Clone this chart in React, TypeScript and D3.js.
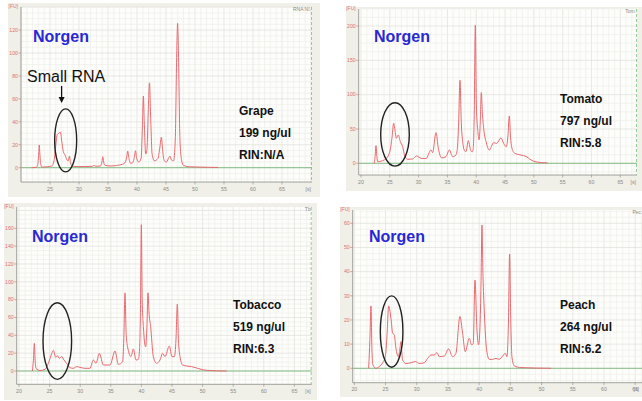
import { useEffect, useRef } from "react";
import * as d3 from "d3";

// Electropherogram traces: migration time [s] and fluorescence [FU]
const grapeTime = [21.8, 22.6, 22.9, 23.05, 23.15, 23.25, 23.4, 23.6, 24.5, 25.3, 25.7, 26.0, 26.25, 26.5, 26.8, 27.0, 27.3, 27.6, 27.9, 28.15, 28.35, 28.55, 28.8, 29.5, 31.0, 32.3, 32.6, 32.9, 33.7, 33.95, 34.1, 34.25, 34.5, 35.5, 36.5, 37.5, 38.0, 38.25, 38.4, 38.55, 38.85, 39.2, 39.5, 39.75, 39.95, 40.3, 40.7, 40.95, 41.1, 41.25, 41.5, 41.7, 41.95, 42.15, 42.35, 42.6, 43.0, 43.6, 43.95, 44.2, 44.4, 44.7, 45.1, 45.5, 45.7, 45.9, 46.3, 46.6, 46.85, 47.0, 47.15, 47.4, 47.7, 48.0, 49.0, 51.0, 54.0];
const grapeFU = [0, 0.3, 3, 12, 19.8, 12, 3, 0.5, 0.8, 1.5, 6, 20, 29, 30, 31, 24, 14, 11, 7, 6, 10, 4, 1.5, 1, 1, 1.2, 2, 1.2, 1.5, 5, 9.6, 5, 2, 1.5, 2, 3, 5, 10, 14.5, 10, 4, 4, 8, 14.8, 8, 5, 8, 40, 62.5, 40, 12, 15, 50, 74, 45, 12, 6, 8, 18, 26.7, 16, 6, 5, 9, 10, 7, 6, 25, 100, 126, 100, 25, 6, 2, 0.8, 0.5, 0.2];

const tomatoTime = [22.31, 22.45, 22.6, 22.75, 22.89, 24.05, 24.92, 25.35, 25.67, 25.95, 26.13, 26.48, 26.82, 27.23, 27.63, 28.1, 28.96, 29.66, 30.41, 31.28, 32.15, 32.43, 33.01, 33.42, 34.0, 34.75, 35.33, 35.9, 36.48, 36.7, 36.95, 37.18, 37.4, 37.64, 38.0, 38.22, 38.62, 39.0, 39.3, 39.45, 39.65, 39.84, 40.02, 40.3, 40.5, 40.7, 40.88, 41.05, 41.3, 41.75, 42.27, 43.02, 43.54, 44.29, 44.75, 45.22, 45.5, 45.74, 45.95, 46.14, 46.61, 47.18, 47.76, 48.63, 49.5, 50.36, 52.39];
const tomatoFU = [0, 10, 25.7, 10, 2.4, 4.9, 14.6, 35, 58.3, 45, 36.4, 41.3, 31.6, 24.3, 9.7, 5.8, 6.3, 10.7, 7.3, 6.8, 19.4, 15.5, 44.7, 21.8, 7.8, 9.7, 19.4, 9.7, 12.1, 20, 60, 121, 60, 32, 18, 17, 33, 20, 16.5, 20, 70, 201, 85, 45, 34, 60, 103, 75, 50, 30, 19.4, 30, 29, 37, 29, 24, 40, 69, 38, 24, 15, 13, 12, 10, 5, 2, 0.5];

const tobaccoTime = [22.18, 22.35, 22.51, 22.65, 22.78, 23.43, 24.25, 24.79, 25.34, 25.61, 25.99, 26.26, 26.59, 26.97, 27.35, 27.79, 28.33, 28.88, 29.42, 29.97, 30.78, 31.6, 32.15, 32.58, 33.13, 33.78, 34.87, 35.69, 36.23, 36.94, 37.12, 37.32, 37.52, 37.86, 38.3, 38.68, 39.12, 39.5, 39.7, 39.85, 39.99, 40.13, 40.32, 40.7, 40.9, 41.08, 41.25, 41.51, 41.95, 42.49, 43.04, 43.47, 43.86, 44.56, 45.0, 45.38, 45.65, 45.87, 46.05, 46.31, 46.74, 47.4, 48.21, 49.58, 50.66, 53.93];
const tobaccoFU = [0, 12, 31, 10, 3, 0.5, 1.9, 8.6, 19.4, 23.2, 15.3, 17.2, 14.2, 16.1, 12.3, 8.6, 3.7, 3, 4.9, 4.1, 3, 3, 12.3, 8.6, 19.8, 6.7, 6.7, 22.4, 7.5, 10.5, 35, 87.6, 40, 23.2, 16.1, 24.7, 12.3, 13.1, 25, 70, 164, 80, 49.9, 27, 50, 87.6, 65, 49.9, 16.1, 8.6, 12.3, 19.8, 16.1, 28, 16.1, 16.1, 35, 75, 35, 16.1, 6.7, 5.6, 4.9, 2.2, 0.7, 0];

const peachTime = [22.3, 22.5, 22.67, 22.82, 22.99, 23.47, 24.0, 24.54, 24.97, 25.25, 25.5, 25.87, 26.14, 26.41, 26.67, 27.05, 27.3, 27.47, 27.6, 27.74, 28.28, 29.08, 29.77, 30.41, 31.21, 31.75, 32.28, 32.81, 33.24, 33.61, 34.42, 35.11, 35.75, 36.28, 36.92, 37.35, 37.78, 38.42, 38.79, 39.06, 39.33, 39.65, 39.91, 40.13, 40.3, 40.45, 40.62, 40.82, 41.2, 41.62, 42.16, 42.69, 43.22, 43.76, 44.19, 44.45, 44.7, 44.88, 45.05, 45.25, 45.63, 46.7, 51.5];
const peachFU = [0, 12, 25.8, 8, 1.4, 0, 0.7, 2.3, 4.8, 14, 25.8, 20.7, 14.5, 13.8, 8.3, 4.8, 8, 11, 7, 3.4, 2, 2.3, 2.8, 2, 2.3, 4.1, 5.5, 5.5, 6.5, 4.8, 5.1, 8, 4.8, 6.2, 21.4, 14.5, 6.9, 12.4, 9.7, 10.3, 36.5, 15.9, 9.7, 17, 35, 59.3, 38, 24, 7.6, 3.7, 3.7, 4.1, 3.7, 5.1, 6.2, 4.8, 20, 47.3, 22, 4.8, 1, 0.3, 0];

const xTicks = [20, 25, 30, 35, 40, 45, 50, 55, 60, 65];
const grapeYTicks = [0, 20, 40, 60, 80, 100, 120];
const tomatoYTicks = [0, 50, 100, 150, 200];
const tobaccoYTicks = [0, 20, 40, 60, 80, 100, 120, 140, 160];
const peachYTicks = [0, 10, 20, 30, 40, 50, 60];

const sampleNames = ["Grape", "Tomato", "Tobacco", "Peach"];
const concentrations = ["199 ng/ul", "797 ng/ul", "519 ng/ul", "264 ng/ul"];
const rinValues = ["RIN:N/A", "RIN:5.8", "RIN:6.3", "RIN:6.2"];
const fileTags = ["RNA NI.", "Tom.", "Tb", "Pec"];

// small RNA region circled on each trace (centre in data units)
const circleTime = [27.7, 25.9, 26.26, 25.98];
const circleFU = [23.8, 42, 33.6, 15.2];

const panels = [
  { time: grapeTime, fu: grapeFU, yTicks: grapeYTicks, bg: [8, 3, 312, 194], plot: [21, 312, 7, 182], xr: [21, 282], yr: [167.7, 30.1], circle: [11, 31.5], labelX: 239, labelY: 115, norgen: [33, 42], show20: false },
  { time: tomatoTime, fu: tomatoFU, yTicks: tomatoYTicks, bg: [346, 7, 296, 184], plot: [358.7, 637, 9, 175], xr: [361, 620.3], yr: [163.3, 26], circle: [14.3, 31.7], labelX: 560, labelY: 103, norgen: [374, 42], show20: true },
  { time: tobaccoTime, fu: tobaccoFU, yTicks: tobaccoYTicks, bg: [4, 203, 313, 197], plot: [16.7, 311.7, 207, 384.3], xr: [19, 294.4], yr: [371, 228.3], circle: [14.3, 38.3], labelX: 233, labelY: 309, norgen: [32, 242], show20: true },
  { time: peachTime, fu: peachFU, yTicks: peachYTicks, bg: [340, 207, 302, 190], plot: [352.7, 646, 210, 382.7], xr: [354.3, 635.2], yr: [368.3, 223.3], circle: [11.3, 35.7], labelX: 560, labelY: 309, norgen: [369, 242], show20: true },
];

const FONT = "'Liberation Sans', Arial, sans-serif";

export default function App() {
  const svgRef = useRef<SVGSVGElement>(null);

  useEffect(() => {
    if (!svgRef.current) return;
    const svg = d3.select(svgRef.current);
    svg.selectAll("*").remove();

    panels.forEach((p, i) => {
      const g = svg.append("g");
      const [left, right, top, bottom] = p.plot;
      const yMax = p.yTicks[p.yTicks.length - 1];
      const x = d3.scaleLinear().domain([20, 65]).range(p.xr);
      const y = d3.scaleLinear().domain([0, yMax]).range(p.yr);
      const tEnd = x.invert(right);

      // panel background + plot area
      g.append("rect")
        .attr("x", p.bg[0]).attr("y", p.bg[1])
        .attr("width", p.bg[2]).attr("height", p.bg[3])
        .attr("fill", "#f0efe8");
      g.append("rect")
        .attr("x", left).attr("y", top)
        .attr("width", right - left).attr("height", bottom - top)
        .attr("fill", "#fdfdfb");

      // minor / major vertical grid
      const vLines = d3.range(Math.ceil(x.invert(left)), tEnd, 1);
      g.selectAll("line.vg").data(vLines).join("line")
        .attr("x1", (d) => x(d)).attr("x2", (d) => x(d))
        .attr("y1", top).attr("y2", bottom)
        .attr("stroke", (d) => (d % 5 === 0 ? "#dededa" : "#eeeeea"))
        .attr("stroke-width", 0.7);

      // horizontal grid
      const step = p.yTicks[1] - p.yTicks[0];
      const hLines = d3.range(y.invert(bottom), y.invert(top), step / 4)
        .map((d) => Math.ceil(d / (step / 4)) * (step / 4));
      g.selectAll("line.hg").data(hLines).join("line")
        .attr("x1", left).attr("x2", right)
        .attr("y1", (d) => y(d)).attr("y2", (d) => y(d))
        .attr("stroke", (d) => (d % step === 0 ? "#dededa" : "#eeeeea"))
        .attr("stroke-width", 0.7);

      // axes
      g.append("line")
        .attr("x1", left).attr("x2", left).attr("y1", top).attr("y2", bottom)
        .attr("stroke", "#8a8a86").attr("stroke-width", 0.8);
      g.append("line")
        .attr("x1", left).attr("x2", right).attr("y1", bottom).attr("y2", bottom)
        .attr("stroke", "#8a8a86").attr("stroke-width", 0.8);

      // y ticks
      g.selectAll("line.yt").data(p.yTicks).join("line")
        .attr("x1", left - 2.5).attr("x2", left)
        .attr("y1", (d) => y(d)).attr("y2", (d) => y(d))
        .attr("stroke", "#d07070").attr("stroke-width", 0.6);
      g.selectAll("text.yl").data(p.yTicks).join("text")
        .attr("x", left - 3).attr("y", (d) => y(d) + 1.8)
        .attr("text-anchor", "end")
        .attr("font-family", FONT).attr("font-size", 5.2)
        .attr("fill", "#e07070")
        .text((d) => d);
      g.append("text")
        .attr("x", left - 3).attr("y", top + 0.5)
        .attr("text-anchor", "end")
        .attr("font-family", FONT).attr("font-size", 5)
        .attr("fill", "#e07070")
        .text("[FU]");

      // x ticks
      const shownX = p.show20 ? xTicks : xTicks.slice(1);
      g.selectAll("line.xt").data(shownX).join("line")
        .attr("x1", (d) => x(d)).attr("x2", (d) => x(d))
        .attr("y1", bottom).attr("y2", bottom + 2.5)
        .attr("stroke", "#8a8a86").attr("stroke-width", 0.6);
      g.selectAll("text.xl").data(shownX).join("text")
        .attr("x", (d) => x(d)).attr("y", bottom + 8.5)
        .attr("text-anchor", "middle")
        .attr("font-family", FONT).attr("font-size", 5.2)
        .attr("fill", "#8a8a86")
        .text((d) => d);
      g.append("text")
        .attr("x", Math.min(right, 640) - 1).attr("y", bottom + 8.5)
        .attr("text-anchor", "end")
        .attr("font-family", FONT).attr("font-size", 5.2)
        .attr("fill", "#8a8a86")
        .text("[s]");

      // file tag top right
      g.append("text")
        .attr("x", Math.min(right, 642) - 1).attr("y", top + 4)
        .attr("text-anchor", "end")
        .attr("font-family", FONT).attr("font-size", 5)
        .attr("fill", "#8a8a86")
        .text(fileTags[i]);

      // green baseline and dashed end marker
      g.append("line")
        .attr("x1", left).attr("x2", right)
        .attr("y1", y(0)).attr("y2", y(0))
        .attr("stroke", "#78b878").attr("stroke-width", 0.9);
      g.append("line")
        .attr("x1", right - 0.5).attr("x2", right - 0.5)
        .attr("y1", top).attr("y2", bottom)
        .attr("stroke", "#7cbf7c").attr("stroke-width", 0.8)
        .attr("stroke-dasharray", "3,2");

      // trace
      const pts = p.time.map((t, k) => [t, p.fu[k]] as [number, number]);
      const line = d3.line<[number, number]>()
        .x((d) => x(d[0]))
        .y((d) => y(d[1]))
        .curve(d3.curveMonotoneX);
      g.append("path")
        .attr("d", line(pts))
        .attr("fill", "none")
        .attr("stroke", "#e8696e")
        .attr("stroke-width", 1);

      // circle around small RNA region
      g.append("ellipse")
        .attr("cx", x(circleTime[i])).attr("cy", y(circleFU[i]))
        .attr("rx", p.circle[0]).attr("ry", p.circle[1])
        .attr("fill", "none")
        .attr("stroke", "#222").attr("stroke-width", 1.4);

      // Norgen label
      g.append("text")
        .attr("x", p.norgen[0]).attr("y", p.norgen[1])
        .attr("font-family", FONT).attr("font-weight", "bold")
        .attr("font-size", 16).attr("fill", "#2929d4")
        .text("Norgen");

      // sample info
      [sampleNames[i], concentrations[i], rinValues[i]].forEach((s, k) => {
        g.append("text")
          .attr("x", p.labelX).attr("y", p.labelY + k * 22)
          .attr("font-family", FONT).attr("font-weight", "bold")
          .attr("font-size", 12).attr("fill", "#111")
          .text(s);
      });

      if (i === 0) {
        g.append("text")
          .attr("x", 27).attr("y", 81.5)
          .attr("font-family", FONT).attr("font-size", 16)
          .attr("fill", "#111")
          .text("Small RNA");
        const ax = x(27.0);
        g.append("line")
          .attr("x1", ax).attr("x2", ax).attr("y1", 86).attr("y2", 98)
          .attr("stroke", "#111").attr("stroke-width", 1.3);
        g.append("path")
          .attr("d", `M${ax - 3},97 L${ax + 3},97 L${ax},103 Z`)
          .attr("fill", "#111");
      }
    });
  }, []);

  return (
    <svg
      ref={svgRef}
      width={642}
      height={401}
      style={{ position: "absolute", left: 0, top: 0, background: "#fff" }}
    />
  );
}
